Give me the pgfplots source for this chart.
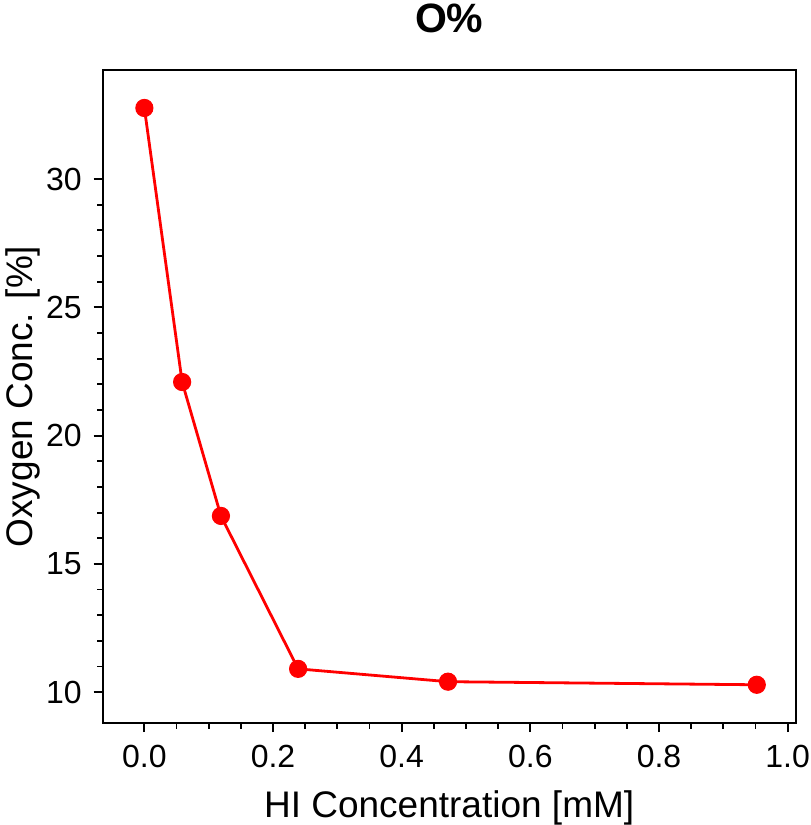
\documentclass[border=0pt]{standalone}
\usepackage{fontspec}
\setmainfont{Liberation Sans}
\usepackage{pgfplots}
\pgfplotsset{compat=1.18}
\begin{document}
\begin{tikzpicture}
\begin{axis}[
  scale only axis,
  width=346.5pt, height=326.5pt,
  xmin=-0.0648, xmax=1.0125,
  ymin=8.8, ymax=34.25,
  xtick={0,0.2,0.4,0.6,0.8,1.0},
  ytick={10,15,20,25,30},
  minor x tick num=3,
  minor y tick num=4,
  tick pos=left,
  tick align=outside,
  major tick length=4.5pt,
  minor tick length=2.8pt,
  every tick/.style={black, line width=0.9pt},
  axis line style={line width=0.9pt},
  /pgf/number format/assume math mode=true,
  xticklabel={\pgfmathprintnumber[fixed,fixed zerofill,precision=1]{\tick}},
  ticklabel style={font=\fontsize{16}{19}\selectfont},
  xticklabel style={yshift=-3pt},
  yticklabel style={xshift=-2.5pt},
  xlabel={HI Concentration [mM]},
  ylabel={Oxygen Conc. [\%]},
  xlabel style={font=\fontsize{18.5}{22}\selectfont, at={(axis description cs:0.5,0)}, anchor=base, yshift=-47pt},
  ylabel style={font=\fontsize{18.5}{22}\selectfont, at={(axis description cs:-0.1154,0.5)}, anchor=center},
  title={O\%},
  title style={font=\fontsize{20.5}{24}\selectfont\bfseries, at={(axis description cs:0.5,1)}, anchor=center, yshift=20pt},
]
\addplot[red, line width=1.4pt, mark=*, mark size=4.3pt, mark options={fill=red, draw=red, line width=0.5pt}]
  coordinates {(0,32.77) (0.0587,22.09) (0.119,16.87) (0.239,10.91) (0.472,10.41) (0.952,10.29)};
\end{axis}
\pgfresetboundingbox
\path (-51.35pt,-51pt) rectangle (353.65pt,361.5pt);
\end{tikzpicture}
\end{document}
